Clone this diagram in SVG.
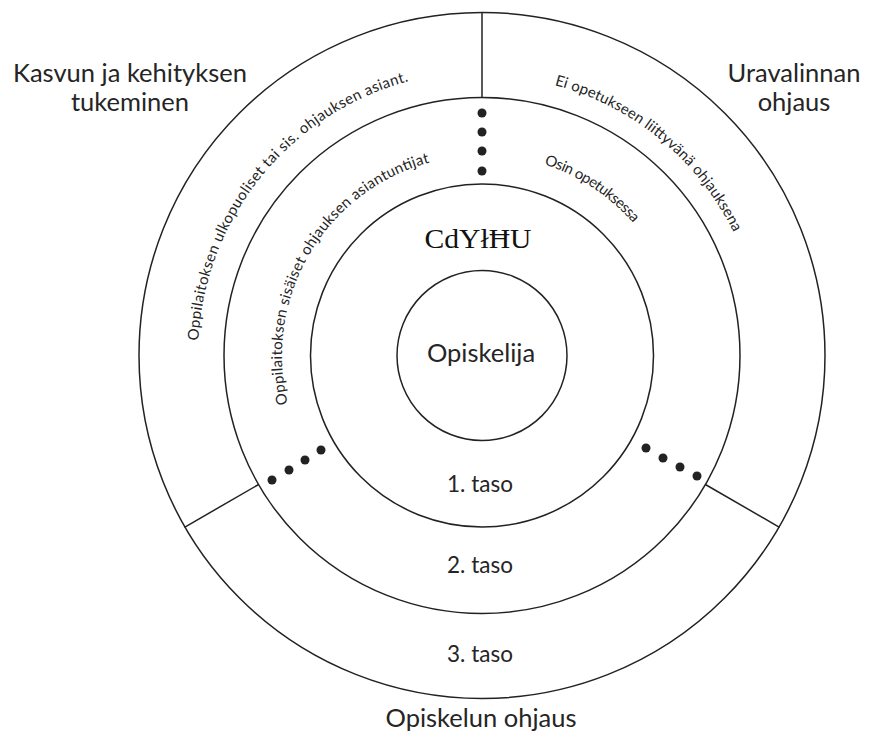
<svg xmlns="http://www.w3.org/2000/svg" width="872" height="743" viewBox="0 0 872 743">
<style>
.ring{fill:none;stroke:#222;stroke-width:1.5}
.div{stroke:#222;stroke-width:1.5}
.dot{fill:#222}
.lbl{font-family:Lato,"Open Sans",sans-serif;fill:#252525;text-anchor:middle}
.big{font-size:25.5px}
.lvl{font-size:22.5px}
.arc{font-family:Lato,"Open Sans",sans-serif;font-size:15px;fill:#252525}
.ser{font-family:"Liberation Serif",serif;font-size:28px;fill:#111;text-anchor:middle}
</style>
<defs>
<path id="pA" d="M198.4,340.6 A284,284 0 0 1 408.5,81.2"/>
<path id="pB" d="M287.9,403.9 A200,200 0 0 1 430.2,162.3"/>
<path id="pC" d="M554.5,85 A280,280 0 0 1 733.7,232.8"/>
<path id="pD" d="M544.1,164.3 A201,201 0 0 1 633.7,223.6"/>
</defs>
<rect width="872" height="743" fill="#fff"/>
<g id="taso3">
<circle class="ring" cx="482" cy="355.5" r="343"/>
<text class="lbl lvl" x="480" y="662">3. taso</text>
</g>
<g id="taso2">
<circle class="ring" cx="482" cy="355.5" r="258"/>
<text class="lbl lvl" x="480" y="573">2. taso</text>
</g>
<g id="taso1">
<circle class="ring" cx="482" cy="355.5" r="171.5"/>
<text class="lbl lvl" x="480" y="492">1. taso</text>
<text class="ser" x="478" y="248" textLength="107" lengthAdjust="spacingAndGlyphs">CdYłĦU</text>
</g>
<g id="opiskelija">
<circle class="ring" cx="482" cy="355.5" r="85"/>
<text class="lbl big" x="481" y="362">Opiskelija</text>
</g>
<g id="connectors">
<line class="div" x1="482" y1="13" x2="482" y2="97.5"/>
<line class="div" x1="258.6" y1="484.5" x2="184.5" y2="527.3"/>
<line class="div" x1="705.4" y1="484.5" x2="779.5" y2="527.3"/>
</g>
<g id="dots">
<circle class="dot" cx="482" cy="113" r="4.5"/>
<circle class="dot" cx="482" cy="132" r="4.5"/>
<circle class="dot" cx="482" cy="151" r="4.5"/>
<circle class="dot" cx="482" cy="171" r="4.5"/>
<circle class="dot" cx="272" cy="480" r="4.5"/>
<circle class="dot" cx="289" cy="470" r="4.5"/>
<circle class="dot" cx="305" cy="460" r="4.5"/>
<circle class="dot" cx="321" cy="450" r="4.5"/>
<circle class="dot" cx="646" cy="448" r="4.5"/>
<circle class="dot" cx="663" cy="458" r="4.5"/>
<circle class="dot" cx="680" cy="467" r="4.5"/>
<circle class="dot" cx="697" cy="476" r="4.5"/>
</g>
<g id="arc-texts">
<text class="arc"><textPath href="#pA" textLength="357" lengthAdjust="spacing">Oppilaitoksen ulkopuoliset tai sis. ohjauksen asiant.</textPath></text>
<text class="arc"><textPath href="#pB" textLength="310" lengthAdjust="spacing">Oppilaitoksen sisäiset ohjauksen asiantuntijat</textPath></text>
<text class="arc"><textPath href="#pC" textLength="239" lengthAdjust="spacing">Ei opetukseen liittyvänä ohjauksena</textPath></text>
<text class="arc"><textPath href="#pD" textLength="108" lengthAdjust="spacing">Osin opetuksessa</textPath></text>
</g>
<g id="kasvun">
<text class="lbl big" x="130" y="82">Kasvun ja kehityksen</text>
<text class="lbl big" x="130" y="111">tukeminen</text>
</g>
<g id="uravalinnan">
<text class="lbl big" x="794" y="82">Uravalinnan</text>
<text class="lbl big" x="794" y="111">ohjaus</text>
</g>
<g id="opiskelun">
<text class="lbl big" x="481" y="727">Opiskelun ohjaus</text>
</g>
</svg>
